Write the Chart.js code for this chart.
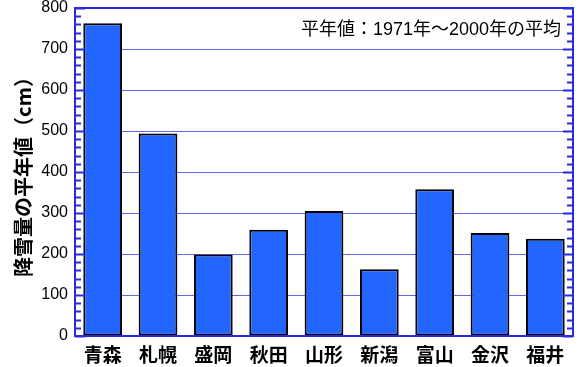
<!DOCTYPE html>
<html>
<head>
<meta charset="utf-8">
<script src="https://cdn.jsdelivr.net/npm/chart.js@4.4.1/dist/chart.umd.min.js"></script>
<style>
  html,body{margin:0;padding:0;background:#fff;}
  #wrap{width:580px;height:367px;}
</style>
</head>
<body>
<div id="wrap"><canvas id="snowChart" width="580" height="367"></canvas></div>
<script>
// 降雪量の平年値 (cm)
var cities = ['青森', '札幌', '盛岡', '秋田', '山形', '新潟', '富山', '金沢', '福井'];
var snowfall = [763, 494, 199, 259, 305, 163, 358, 251, 237];
var yTicks = [0, 100, 200, 300, 400, 500, 600, 700, 800];
var minorStep = 20;
var noteText = '平年値：1971年～2000年の平均';

var axisBlue = '#2a2ae0';
var gridBlue = '#6464ea';

// frame + inward ticks on both sides, plus the note in the corner
var framePlugin = {
  id: 'frame',
  afterDraw: function(chart){
    var ctx = chart.ctx;
    var a = chart.chartArea;
    var y = chart.scales.y;
    ctx.save();
    ctx.strokeStyle = axisBlue;
    ctx.lineWidth = 2;
    ctx.strokeRect(a.left, a.top, a.right - a.left, a.bottom - a.top);
    for (var v = 0; v <= 800; v += minorStep) {
      var py = Math.round(y.getPixelForValue(v)) + 0.5;
      var len = (v % 100 === 0) ? 10 : 6;
      ctx.beginPath();
      ctx.moveTo(a.left, py);
      ctx.lineTo(a.left + len, py);
      ctx.moveTo(a.right, py);
      ctx.lineTo(a.right - len, py);
      ctx.stroke();
    }
    ctx.fillStyle = '#000';
    ctx.font = '18px "Liberation Sans", "Noto Sans CJK JP"';
    ctx.textAlign = 'right';
    ctx.textBaseline = 'middle';
    ctx.fillText(noteText, a.right - 12, 30);
    ctx.restore();
  }
};
</script>
<script>
var ctx = document.getElementById('snowChart').getContext('2d');
new Chart(ctx, {
  type: 'bar',
  data: {
    labels: cities,
    datasets: [{
      data: snowfall,
      backgroundColor: '#2266ff',
      borderColor: '#000',
      borderWidth: 2,
      borderSkipped: false,
      categoryPercentage: 1.0,
      barPercentage: 0.7
    }]
  },
  options: {
    responsive: false,
    animation: false,
    layout: {padding: {top: 8, right: 7, left: 0, bottom: 0}},
    plugins: {legend: {display: false}, tooltip: {enabled: false}},
    scales: {
      x: {
        grid: {display: false, drawTicks: false},
        border: {display: false},
        ticks: {color: '#000', padding: 7, font: {family: '"Noto Sans CJK JP"', size: 19, weight: 'bold'}},
        afterFit: function(s){ s.height = 31; }
      },
      y: {
        min: 0, max: 800,
        afterBuildTicks: function(s){ s.ticks = yTicks.map(function(v){ return {value: v}; }); },
        grid: {color: gridBlue, lineWidth: 1, drawTicks: false},
        border: {display: false},
        ticks: {color: '#000', padding: 7, font: {family: '"Liberation Sans", Arial', size: 16, lineHeight: 1}},
        title: {display: true, text: '降雪量の平年値（cm）', color: '#000', padding: {top: 11, bottom: 0},
                font: {family: '"Noto Sans CJK JP"', size: 20, weight: 'bold'}},
        afterFit: function(s){ s.width = 75; s.paddingTop = 0; s.paddingBottom = 0; }
      }
    }
  },
  plugins: [framePlugin]
});
</script>
</body>
</html>
